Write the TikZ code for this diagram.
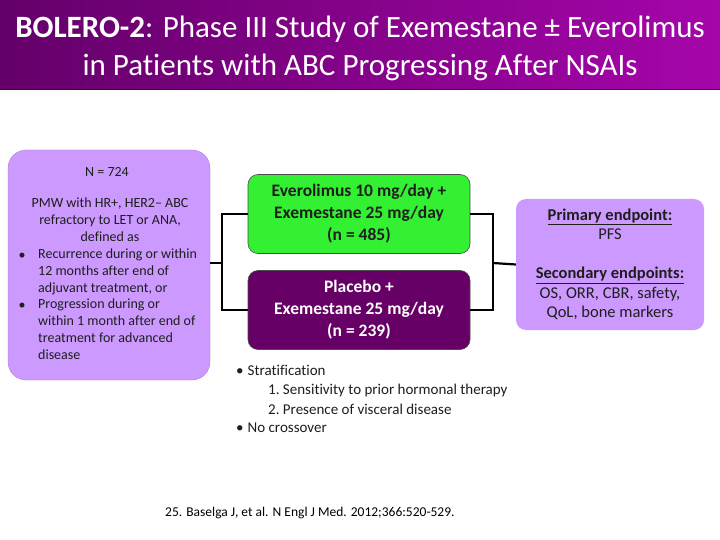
\documentclass[tikz,border=0pt]{standalone}
\usepackage{fontspec}
\setmainfont{Carlito}[Ligatures=NoCommon]
\usetikzlibrary{calc}
\definecolor{lav}{RGB}{204,153,255}
\definecolor{grn}{RGB}{51,240,51}
\definecolor{dpur}{RGB}{102,0,102}
\definecolor{tl}{RGB}{100,0,105}
\definecolor{tr}{RGB}{165,5,170}
\definecolor{txt}{RGB}{30,30,30}
\tikzset{
  lavbox/.style={fill=lav, draw=lav!80!black, line width=0.3pt, rounded corners=18pt},
  armbox/.style={draw=black!70, line width=0.6pt, rounded corners=10pt, minimum width=222pt, minimum height=79pt, align=center, font=\fontsize{17.5}{22}\selectfont\bfseries},
  conn/.style={draw=black, line width=2.2pt},
  txtline/.style={inner sep=0pt, anchor=west, font=\fontsize{15}{19}\selectfont, text=txt},
  lefttxt/.style={font=\fontsize{14}{16.8}\selectfont, text=txt, inner sep=0pt}
}
\begin{document}
\begin{tikzpicture}[x=1pt,y=-1pt]
\useasboundingbox (0,0) rectangle (720,540);
\fill[white] (0,0) rectangle (720,540);
% title bar
\shade[left color=tl, right color=tr] (0,0) rectangle (720,90);
\draw[tl!80!black, line width=1.5pt] (0,89.5) -- (720,89.5);
\node[text=white, font=\fontsize{31}{38}\selectfont, align=center] (title) at (360,48)
  {\textbf{BOLERO-2}: Phase III Study of Exemestane ± Everolimus\\in Patients with ABC Progressing After NSAIs};
% left box
\fill[lavbox] (8,150) rectangle (210,380);
\coordinate (lbR) at (210,263);
\node[lefttxt] (n) at (107,172) {N = 724};
\node[lefttxt, align=center, anchor=north] (pmw) at (110,198)
  {PMW with HR+, HER2– ABC\\refractory to LET or ANA,\\defined as};
\node[lefttxt, align=left, anchor=north west] (rec) at (38,249)
  {Recurrence during or within\\12 months after end of\\adjuvant treatment, or};
\node[lefttxt, align=left, anchor=north west] (prog) at (38,299)
  {Progression during or\\within 1 month after end of\\treatment for advanced\\disease};
\node[lefttxt] (b1) at (22,256) {•};
\node[lefttxt] (b2) at (22,306) {•};
% arms
\node[armbox, fill=grn, text=txt] (evr) at (359,214) {Everolimus 10 mg/day +\\Exemestane 25 mg/day\\(n = 485)};
\node[armbox, fill=dpur, text=white] (pla) at (359,310) {Placebo +\\Exemestane 25 mg/day\\(n = 239)};
% endpoints box
\node[fill=lav, rounded corners=10pt, minimum width=188pt, minimum height=131pt, align=center, font=\fontsize{16.5}{19.5}\selectfont, text=txt] (ep) at (610,264.5)
  {\textbf{\underline{Primary endpoint:}}\\PFS\\[19.5pt]\textbf{\underline{Secondary endpoints:}}\\OS, ORR, CBR, safety,\\QoL, bone markers};
% connectors
\coordinate (lj) at (222,263);
\coordinate (rj) at (493,263);
\draw[conn] (lbR) -- (lj);
\draw[conn] (evr.west) -| (lj) |- (pla.west);
\draw[conn] (evr.east) -| (rj) |- (pla.east);
\draw[conn] (rj) -- (ep.west);
% bullets
\node[txtline] (s1) at (236,370) {•\hspace{4pt}Stratification};
\node[txtline] (s2) at (268,390) {1.\ Sensitivity to prior hormonal therapy};
\node[txtline] (s3) at (268,409) {2.\ Presence of visceral disease};
\node[txtline] (s4) at (236,428) {•\hspace{4pt}No crossover};
% citation
\node[txtline, font=\fontsize{13.5}{16}\selectfont, text=black] (cite) at (165,513) {25. Baselga J, et al. N Engl J Med. 2012;366:520-529.};
\end{tikzpicture}
\end{document}
